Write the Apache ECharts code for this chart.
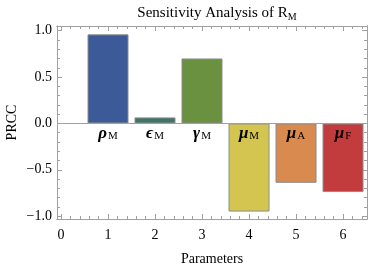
<!DOCTYPE html>
<html><head><meta charset="utf-8">
<script src="https://cdn.jsdelivr.net/npm/echarts@6/dist/echarts.min.js"></script>
<style>html,body{margin:0;padding:0;background:#fff}#c{width:373px;height:264px}</style>
</head><body><div id="c"></div>
<script>
const positions = [1, 2, 3, 4, 5, 6];
const prcc = [0.96, 0.065, 0.70, -0.95, -0.64, -0.74];
const symbols = ['ρ', 'ϵ', 'γ', 'μ', 'μ', 'μ'];
const subs = ['M', 'M', 'M', 'M', 'A', 'F'];
const colors = ['#3d5a98', '#3d7465', '#6a913f', '#d3c54f', '#d98a4e', '#c23c3d'];
const xTicks = [0, 1, 2, 3, 4, 5, 6];
const yTicks = [-1, -0.5, 0, 0.5, 1];
const xMinor = []; for (let i = 0; i <= 32; i++) xMinor.push(+(i * 0.2).toFixed(1));
const yMinor = []; for (let i = -10; i <= 10; i++) yMinor.push(+(i * 0.1).toFixed(1));

const XMIN = -0.085, XMAX = 6.51, YMIN = -1.03, YMAX = 1.05;
const serif = 'Liberation Serif';
const frameColor = '#a0a0a0';

function xAxisDef(pos, vals, len, labels) {
  return {
    type: 'value', position: pos, min: XMIN, max: XMAX,
    axisLine: { show: true, onZero: false, lineStyle: { color: frameColor, width: 1 } },
    axisTick: { show: true, inside: true, length: len, customValues: vals, lineStyle: { color: frameColor } },
    axisLabel: labels ? { show: true, customValues: xTicks, color: '#000', fontFamily: serif, fontSize: 14, margin: 9 } : { show: false },
    splitLine: { show: false }
  };
}
function yAxisDef(pos, vals, len, labels) {
  return {
    type: 'value', position: pos, min: YMIN, max: YMAX,
    axisLine: { show: true, onZero: false, lineStyle: { color: frameColor, width: 1 } },
    axisTick: { show: true, inside: true, length: len, customValues: vals, lineStyle: { color: frameColor } },
    axisLabel: labels ? { show: true, customValues: yTicks, color: '#000', fontFamily: serif, fontSize: 14, margin: 5,
      formatter: v => (v < 0 ? '\u2212' : '') + Math.abs(v).toFixed(1) } : { show: false },
    splitLine: { show: false }
  };
}

const chart = echarts.init(document.getElementById('c'));
chart.setOption({
  animation: false,
  backgroundColor: '#fff',
  title: {
    text: 'Sensitivity Analysis of {r|R}{s|M}',
    left: 212, top: 0, textAlign: 'center',
    textStyle: { fontFamily: serif, fontSize: 15, fontWeight: 'normal', color: '#000',
      rich: { r: { fontFamily: serif, fontSize: 15, color: '#000' },
              s: { fontFamily: serif, fontSize: 10, color: '#000', padding: [7, 0, 0, 0] } } }
  },
  grid: { left: 57, right: 6, top: 26, bottom: 45, containLabel: false, outerBoundsMode: 'none' },
  xAxis: [
    Object.assign(xAxisDef('bottom', xTicks, 5, true), { name: 'Parameters', nameLocation: 'middle', nameGap: 33,
      nameMoveOverlap: false, nameTextStyle: { fontFamily: serif, fontSize: 14, color: '#000' } }),
    xAxisDef('bottom', xMinor, 3, false),
    xAxisDef('top', xTicks, 5, false),
    xAxisDef('top', xMinor, 3, false)
  ],
  yAxis: [
    Object.assign(yAxisDef('left', yTicks, 5, true), { name: 'PRCC', nameLocation: 'middle', nameGap: 38, nameRotate: 90,
      nameMoveOverlap: false, nameTextStyle: { fontFamily: serif, fontSize: 14, color: '#000' } }),
    yAxisDef('left', yMinor, 3, false),
    yAxisDef('right', yTicks, 5, false),
    yAxisDef('right', yMinor, 3, false)
  ],
  series: [{
    type: 'bar', xAxisIndex: 0, yAxisIndex: 0, barWidth: 41,
    data: positions.map((p, i) => ({
      value: [p, prcc[i]],
      itemStyle: { color: colors[i], borderColor: '#8c8c8c', borderWidth: 1 },
      label: {
        show: true, position: prcc[i] > 0 ? 'bottom' : 'insideTop', distance: 2,
        formatter: '{g|' + symbols[i] + '}{s|' + subs[i] + '}',
        rich: {
          g: { fontFamily: serif, fontSize: 17, fontWeight: 'bold', fontStyle: 'italic', color: '#000' },
          s: { fontFamily: serif, fontSize: 11, color: '#000', padding: [5, 0, 0, 1] }
        }
      }
    })),
    markLine: { silent: true, symbol: 'none', label: { show: false },
      lineStyle: { color: frameColor, type: 'solid', width: 1 }, data: [{ yAxis: 0 }] }
  }]
});
</script></body></html>
